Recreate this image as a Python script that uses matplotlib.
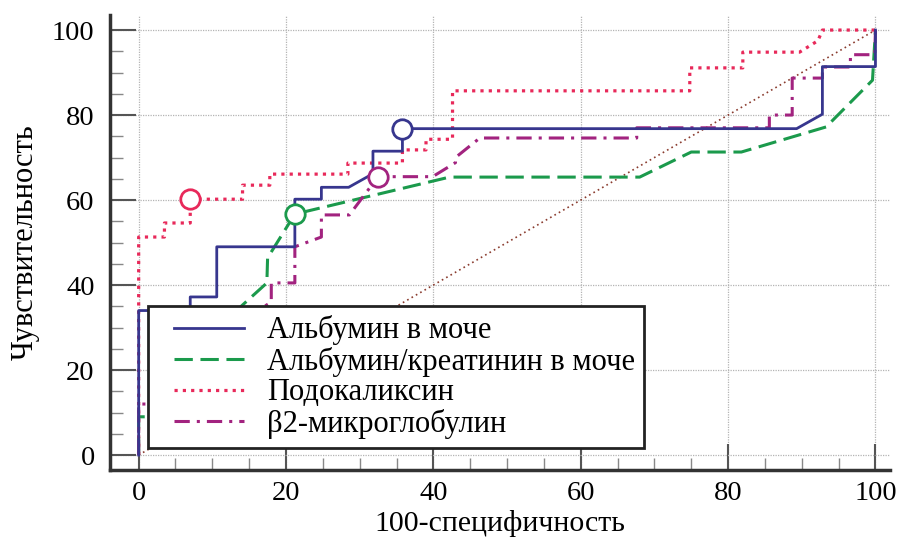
import numpy as np
import matplotlib
matplotlib.use("Agg")
import matplotlib.pyplot as plt
from matplotlib.ticker import MultipleLocator
from matplotlib.legend_handler import HandlerLine2D
from matplotlib.lines import Line2D

plt.rcParams['font.family'] = ['Liberation Serif', 'DejaVu Serif']

# ROC curves (x = 100-specificity, y = sensitivity)
alb_x = [0, 0, 7.0, 7.0, 10.6, 10.6, 21.2, 21.2, 24.8, 24.8, 28.5, 31.8, 31.8, 35.8, 35.8, 89.3, 92.8, 92.8, 100, 100]
alb_y = [0, 34.0, 34.0, 37.2, 37.2, 49.0, 49.0, 60.2, 60.2, 63.0, 63.0, 66.2, 71.5, 71.5, 76.8, 76.8, 80.2, 91.4, 91.4, 100]

acr_x = [0, 0, 1.2, 5.0, 14.1, 17.4, 17.5, 21.2, 42.2, 68.0, 75.0, 81.8, 93.3, 99.6, 100]
acr_y = [0, 9.0, 9.0, 20.0, 35.3, 40.5, 46.4, 56.7, 65.4, 65.4, 71.3, 71.3, 77.2, 88.2, 100]

podo_x = [0, 0, 3.5, 3.5, 7.0, 7.0, 14.1, 14.1, 17.8, 17.8, 28.4, 28.4, 35.8, 35.8, 39.0, 39.0, 42.6, 42.6, 74.8, 74.8, 82.0, 82.0, 89.7, 92.2, 92.8, 100]
podo_y = [0, 51.3, 51.3, 54.6, 54.6, 60.2, 60.2, 63.5, 63.5, 66.1, 66.1, 68.7, 68.7, 71.8, 71.8, 74.3, 74.3, 85.7, 85.7, 91.1, 91.1, 94.8, 94.8, 97.5, 100, 100]

b2m_x = [0, 0, 2.0, 8.0, 18.0, 18.0, 21.2, 21.2, 24.8, 24.8, 28.6, 32.5, 39.9, 43.0, 43.0, 46.3, 67.6, 67.6, 85.6, 85.6, 88.7, 88.7, 92.8, 92.8, 96.6, 96.6, 99.9, 100]
b2m_y = [0, 12.0, 12.0, 25.0, 36.0, 40.5, 40.5, 49.0, 51.3, 56.5, 56.5, 65.5, 65.5, 68.8, 70.0, 74.6, 74.6, 77.0, 77.0, 80.0, 80.0, 88.7, 88.7, 91.3, 91.3, 94.2, 94.2, 100]

# optimal cut-off points (open circles)
cut_x = [35.8, 21.2, 7.0, 32.5]
cut_y = [76.8, 56.7, 60.2, 65.5]

labels = ['Альбумин в моче', 'Альбумин/креатинин в моче', 'Подокаликсин', 'β2-микроглобулин']
colors = ['#37368e', '#1b9a4c', '#e8295a', '#a2237f']

fig = plt.figure(figsize=(9.01, 5.42), dpi=100)
ax = fig.add_axes([0.122, 0.133, 0.866, 0.839])

ax.plot([0, 100], [0, 100], color='#8a3b2e', lw=1.2, ls=(0, (1, 2)), zorder=2)

l1, = ax.plot(alb_x, alb_y, color=colors[0], lw=2.0, zorder=4)
l2, = ax.plot(acr_x, acr_y, color=colors[1], lw=2.2, ls=(0, (6, 2.5)), zorder=3)
l3, = ax.plot(podo_x, podo_y, color=colors[2], lw=2.3, ls=(0, (1, 1.6)), zorder=3)
l4, = ax.plot(b2m_x, b2m_y, color=colors[3], lw=2.2, ls=(0, (5, 2.3, 1, 2.3)), zorder=3)

for cx, cy, c in zip(cut_x, cut_y, colors):
    ax.plot(cx, cy, 'o', ms=14, mfc='white', mec=c, mew=2.0, zorder=5)

ax.set_xlim(-3.9, 102)
ax.set_ylim(-3.5, 103.5)
ax.xaxis.set_major_locator(MultipleLocator(20))
ax.xaxis.set_minor_locator(MultipleLocator(5))
ax.yaxis.set_major_locator(MultipleLocator(20))
ax.yaxis.set_minor_locator(MultipleLocator(5))

ax.grid(True, which='major', color='#b4b4b4', ls=(0, (1, 1)), lw=0.9)
ax.set_axisbelow(True)

for s in ['top', 'right']:
    ax.spines[s].set_visible(False)
for s in ['left', 'bottom']:
    ax.spines[s].set_linewidth(2.5)
    ax.spines[s].set_color('#333333')

ax.tick_params(which='major', direction='in', length=19, width=1.5, color='#555555',
               labelsize=20.5, pad=11)
ax.tick_params(which='minor', direction='in', length=9, width=1.0, color='#888888')
ax.tick_params(axis='x', which='major', pad=8)

ax.set_xlabel('100-специфичность', fontsize=21.5, labelpad=3)
ax.set_ylabel('Чувствительность', fontsize=22, labelpad=9)

hmap = {Line2D: HandlerLine2D(xpad=0.55)}
leg = ax.legend([l1, l2, l3, l4], labels, loc='lower left',
                bbox_to_anchor=(0.049, 0.048), fontsize=22, frameon=True,
                fancybox=False, edgecolor='#222222', framealpha=1,
                handlelength=2.85, handletextpad=0.75, borderpad=0.3,
                labelspacing=0.05, borderaxespad=0, handler_map=hmap)
leg.get_frame().set_linewidth(2.0)
leg.set_zorder(10)

fig.savefig('out.png', dpi=100)
